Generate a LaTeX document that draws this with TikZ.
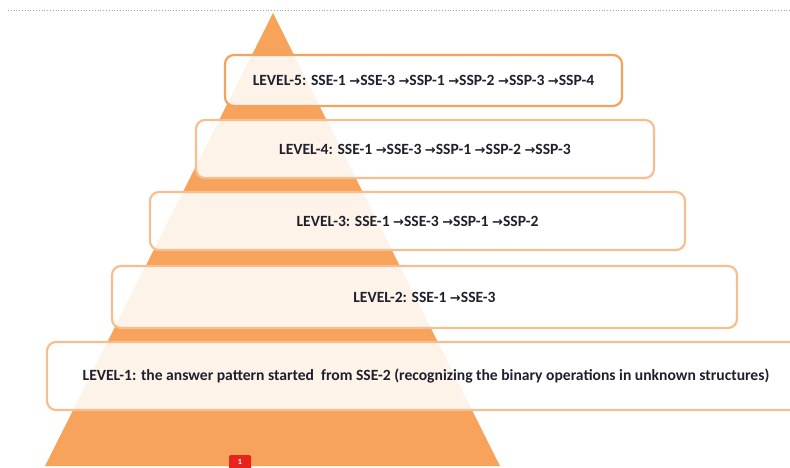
\documentclass[tikz,border=0pt]{standalone}
\usepackage{fontspec}
\setmainfont{Carlito}
\newfontfamily\arrowfont{DejaVu Sans}
\usetikzlibrary{positioning}
\definecolor{pyramid}{HTML}{F7A35C}
\definecolor{boxline}{HTML}{F9BE8F}
\definecolor{topline}{HTML}{F5A25E}
\definecolor{levtext}{HTML}{1F1F2E}
\definecolor{badge}{HTML}{E8231B}
\tikzstyle{level} = [
  rectangle, rounded corners=9pt, draw=boxline, line width=2.2pt,
  fill=white, fill opacity=0.87, text opacity=1, text=levtext,
  font=\bfseries\fontsize{15.6}{18}\selectfont,
  text centered, inner sep=0pt
]
\newcommand{\nextstep}{{\arrowfont\fontsize{13}{12}\selectfont →}}

\begin{document}
\begin{tikzpicture}[x=1pt, y=-1pt]

\useasboundingbox (0,0) rectangle (790,468);

% Top rule and pyramid
\draw [gray!70, dotted, line width=0.8pt] (8,10) -- (790,10);
\coordinate (apex) at (273,13);
\coordinate (baseleft) at (45,466);
\coordinate (baseright) at (500,466);
\fill [pyramid] (apex) -- (baseright) -- (baseleft) -- cycle;

% Levels
\node (lev5) [level, draw=topline, minimum width=397pt, minimum height=51pt] at (423.5,80.5)
  {LEVEL-5: SSE-1 \nextstep SSE-3 \nextstep SSP-1 \nextstep SSP-2 \nextstep SSP-3 \nextstep SSP-4};
\node (lev4) [level, minimum width=458pt, minimum height=58pt] at (425,149)
  {LEVEL-4: SSE-1 \nextstep SSE-3 \nextstep SSP-1 \nextstep SSP-2 \nextstep SSP-3};
\node (lev3) [level, minimum width=535pt, minimum height=58pt] at (417.5,221)
  {LEVEL-3: SSE-1 \nextstep SSE-3 \nextstep SSP-1 \nextstep SSP-2};
\node (lev2) [level, minimum width=625pt, minimum height=62pt] at (424.5,297)
  {LEVEL-2: SSE-1 \nextstep SSE-3};
\node (lev1) [level, minimum width=758pt, minimum height=68pt] at (426,376)
  {LEVEL-1: the answer pattern started~ from SSE-2 (recognizing the binary operations in unknown structures)};

% Page marker (runs off the bottom edge)
\fill [badge, rounded corners=2pt] (229,455) rectangle (251,478);
\node (markerone) [text=white, inner sep=0pt, font=\bfseries\footnotesize] at (240,462) {1};

\end{tikzpicture}
\end{document}
